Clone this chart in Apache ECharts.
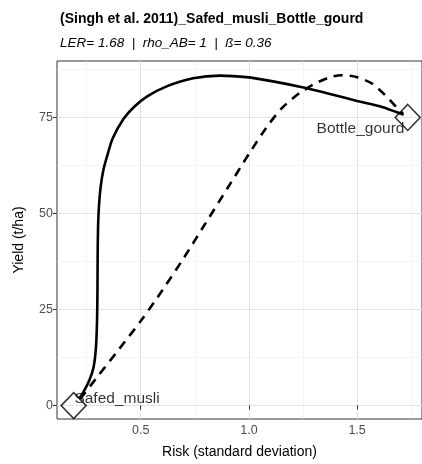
<!DOCTYPE html>
<html>
<head>
<meta charset="utf-8">
<script src="https://cdn.jsdelivr.net/npm/echarts@6/dist/echarts.min.js"></script>
<style>html,body{margin:0;padding:0;background:#fff;}#c{width:422px;height:464px;}</style>
</head>
<body>
<div id="c"></div>
<script>
const titleText = "(Singh et al. 2011)_Safed_musli_Bottle_gourd";
const subtitleText = "LER= 1.68  |  rho_AB= 1  |  \u00DF= 0.36";
const xTicks = [0.5, 1.0, 1.5];
const xMinor = [0.25, 0.75, 1.25, 1.75];
const yTicks = [0, 25, 50, 75];
const yMinor = [12.5, 37.5, 62.5, 87.5];

const solidX = [0.2155,0.235,0.262,0.282,0.293,0.298,0.300,0.301,0.303,0.307,0.315,0.328,0.345,0.370,0.420,0.470,0.530,0.620,0.742,0.866,0.989,1.111,1.235,1.370,1.500,1.605,1.682,1.715];
const solidY = [1.8,3.5,6.5,10,15,22,30,40,47,52,57,61.5,65,69.5,74.6,77.8,80.5,83.1,85.2,85.9,85.5,84.4,83.0,81.2,79.3,77.9,76.4,75.7];

const dashX = [0.220,0.300,0.400,0.500,0.600,0.700,0.800,0.900,1.000,1.080,1.150,1.235,1.312,1.380,1.430,1.500,1.570,1.630,1.680,1.712];
const dashY = [1.7,7.5,14.7,22.0,30.0,38.5,47.5,56.5,65.5,72.3,77.3,81.4,84.0,85.6,86.0,85.5,83.8,80.8,77.8,76.0];

const pointNames = ["Safed_musli", "Bottle_gourd"];
const pointX = [0.190, 1.734];
const pointY = [0, 75];

const FONT = "'Liberation Sans', Arial, sans-serif";
const chart = echarts.init(document.getElementById('c'), null, {renderer: 'canvas'});

function zip(a, b) { return a.map((v, i) => [v, b[i]]); }

const xMin = 0.113, xMax = 1.80, yMin = -3.5, yMax = 89.7;

chart.setOption({
  animation: false,
  backgroundColor: '#fff',
  title: {
    text: titleText,
    subtext: subtitleText,
    left: 55, top: 7,
    itemGap: 10,
    textStyle: {fontFamily: FONT, fontWeight: 'bold', fontSize: 14, color: '#000'},
    subtextStyle: {fontFamily: FONT, fontStyle: 'italic', fontSize: 13.5, color: '#000'}
  },
  grid: {left: 57, top: 61, width: 365, height: 363, show: true, borderColor: '#333', borderWidth: 1, backgroundColor: 'transparent'},
  xAxis: [{
    type: 'value', min: xMin, max: xMax,
    name: 'Risk (standard deviation)', nameLocation: 'middle', nameGap: 26,
    nameTextStyle: {fontFamily: FONT, fontSize: 14, color: '#000'},
    axisLine: {show: false},
    axisTick: {show: true, length: 4, customValues: xTicks, lineStyle: {color: '#333', width: 1}},
    axisLabel: {customValues: xTicks, formatter: v => v.toFixed(1), fontFamily: FONT, fontSize: 12.5, color: '#4d4d4d', margin: 5},
    splitLine: {show: true, lineStyle: {color: '#e3e3e3', width: 1}}
  }, {
    type: 'value', min: xMin, max: xMax, position: 'bottom',
    axisLine: {show: false},
    axisTick: {show: false, customValues: xMinor},
    axisLabel: {show: false, customValues: xMinor},
    splitLine: {show: true, lineStyle: {color: '#ececec', width: 0.6}}
  }],
  yAxis: [{
    type: 'value', min: yMin, max: yMax,
    name: 'Yield (t/ha)', nameLocation: 'middle', nameGap: 31,
    nameTextStyle: {fontFamily: FONT, fontSize: 14, color: '#000'},
    axisLine: {show: false},
    axisTick: {show: true, length: 4, customValues: yTicks, lineStyle: {color: '#333', width: 1}},
    axisLabel: {customValues: yTicks, fontFamily: FONT, fontSize: 12.5, color: '#4d4d4d', margin: 4},
    splitLine: {show: true, lineStyle: {color: '#e3e3e3', width: 1}}
  }, {
    type: 'value', min: yMin, max: yMax, position: 'left',
    axisLine: {show: false},
    axisTick: {show: false, customValues: yMinor},
    axisLabel: {show: false, customValues: yMinor},
    splitLine: {show: true, lineStyle: {color: '#ececec', width: 0.6}}
  }],
  series: [{
    type: 'line', data: zip(solidX, solidY), smooth: 0.25, showSymbol: false, symbol: 'none',
    lineStyle: {color: '#000', width: 2.6}, z: 3
  }, {
    type: 'line', data: zip(dashX, dashY), smooth: 0.25, showSymbol: false, symbol: 'none',
    lineStyle: {color: '#000', width: 2.6, type: [9, 7]}, z: 3
  }, {
    type: 'scatter', symbol: 'diamond', symbolSize: [25, 26],
    data: pointNames.map((n, i) => ({name: n, value: [pointX[i], pointY[i]],
      label: i === 0
        ? {show: true, position: [14, 7], align: 'left', verticalAlign: 'middle'}
        : {show: true, position: [10, 25], align: 'right', verticalAlign: 'middle'}})),
    itemStyle: {color: 'rgba(0,0,0,0)', borderColor: '#000', borderWidth: 1.6},
    label: {formatter: p => p.name, fontFamily: FONT, fontSize: 15.5, color: '#000'},
    z: 4
  }]
});
</script>
</body>
</html>
